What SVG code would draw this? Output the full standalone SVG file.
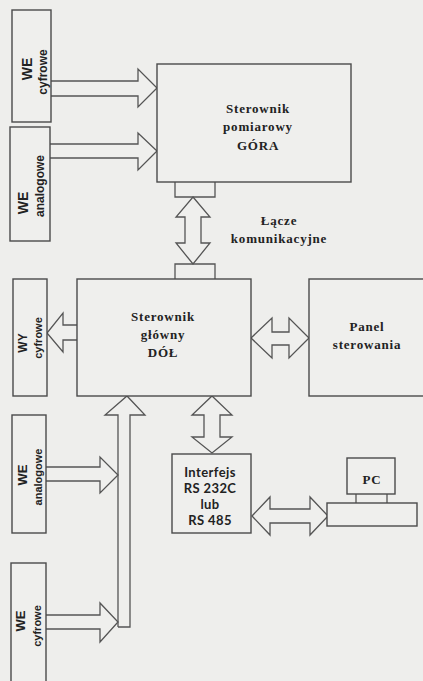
<svg xmlns="http://www.w3.org/2000/svg" width="423" height="681" viewBox="0 0 423 681">
<style>
.bg{fill:#eeeeec}
.box{fill:#efefed;stroke:#4a4a4a;stroke-width:1.4}
.ln{fill:none;stroke:#555;stroke-width:1.3;stroke-linejoin:miter}
.arr{fill:#efefed;stroke:#555;stroke-width:1.3}
.t{font-family:"Liberation Serif","Times New Roman",serif;font-weight:bold;font-size:13px;fill:#222;text-anchor:middle;letter-spacing:0.8px}
.v{font-family:"Liberation Sans",Arial,sans-serif;font-weight:bold;fill:#222;text-anchor:middle}
.s{font-family:Lato,"Liberation Sans",sans-serif;font-weight:bold;font-size:13px;fill:#222;text-anchor:middle;letter-spacing:0.4px}
</style>
<rect class="bg" x="0" y="0" width="423" height="681"/>

<g id="connectors">
  <polyline class="arr" points="51,81 138,81 138,69 157,88 138,107 138,96 51,96"/>
  <polyline class="arr" points="50,144 138,144 138,133 157,151 138,170 138,158 50,158"/>
  <polyline class="ln" points="175,182 175,197 215,197 215,182"/>
  <polygon class="arr" points="193,197 210,217 201,217 201,243 210,243 193,264 176,243 185,243 185,217 176,217"/>
  <polyline class="ln" points="175,279 175,264 215,264 215,279"/>
  <polyline class="arr" points="77,325 63,325 63,313 47,333 63,352 63,340 77,340"/>
  <polygon class="arr" points="251,338 272,318 272,332 289,332 289,318 309,338 289,358 289,345 272,345 272,358"/>
  <polyline class="arr" points="118,627 118,415 105,415 127,396 145,415 130,415 130,627 118,627"/>
  <polyline class="arr" points="46,467 100,467 100,457 118,475 100,493 100,481 46,481"/>
  <polyline class="arr" points="46,615 100,615 100,603 118,622 100,642 100,629 46,629"/>
  <polygon class="arr" points="212,396 232,415 220,415 220,437 232,437 212,453 192,437 204,437 204,415 192,415"/>
  <polygon class="arr" points="252,516 270,497 270,509 310,509 310,497 328,516 310,535 310,523 270,523 270,535"/>
  <line class="ln" x1="356" y1="494" x2="356" y2="503"/>
  <line class="ln" x1="387" y1="494" x2="387" y2="503"/>
</g>

<g id="we-cyfrowe-top">
  <rect class="box" x="12" y="10" width="39" height="112"/>
  <text class="v" font-size="14" transform="translate(32,69) rotate(-90)">WE</text>
  <text class="v" font-size="12" transform="translate(47,72) rotate(-90)">cyfrowe</text>
</g>
<g id="we-analogowe-top">
  <rect class="box" x="10" y="127" width="40" height="114"/>
  <text class="v" font-size="14" transform="translate(28,203) rotate(-90)">WE</text>
  <text class="v" font-size="12" transform="translate(44,186) rotate(-90)">analogowe</text>
</g>
<g id="sterownik-pomiarowy">
  <rect class="box" x="157" y="64" width="194" height="118"/>
  <text class="t" x="258" y="113">Sterownik</text>
  <text class="t" x="258" y="131">pomiarowy</text>
  <text class="t" x="258" y="150">GÓRA</text>
</g>
<g id="lacze">
  <text class="t" x="279" y="225">Łącze</text>
  <text class="t" x="279" y="243">komunikacyjne</text>
</g>
<g id="wy-cyfrowe">
  <rect class="box" x="13" y="279" width="34" height="117"/>
  <text class="v" font-size="12" transform="translate(27,343) rotate(-90)">WY</text>
  <text class="v" font-size="11" transform="translate(42,338) rotate(-90)">cyfrowe</text>
</g>
<g id="sterownik-glowny">
  <rect class="box" x="77" y="279" width="174" height="117"/>
  <text class="t" x="163" y="321">Sterownik</text>
  <text class="t" x="163" y="339">główny</text>
  <text class="t" x="163" y="357">DÓŁ</text>
</g>
<g id="panel">
  <rect class="box" x="309" y="279" width="130" height="117"/>
  <text class="t" x="367" y="331">Panel</text>
  <text class="t" x="367" y="349">sterowania</text>
</g>
<g id="we-analogowe-bottom">
  <rect class="box" x="12" y="415" width="34" height="118"/>
  <text class="v" font-size="13" transform="translate(27,475) rotate(-90)">WE</text>
  <text class="v" font-size="11" transform="translate(42,477) rotate(-90)">analogowe</text>
</g>
<g id="we-cyfrowe-bottom">
  <rect class="box" x="11" y="563" width="35" height="130"/>
  <text class="v" font-size="13" transform="translate(25,621) rotate(-90)">WE</text>
  <text class="v" font-size="11" transform="translate(41,626) rotate(-90)">cyfrowe</text>
</g>
<g id="interfejs">
  <rect class="box" x="172" y="454" width="79" height="79"/>
  <text class="s" x="210" y="477">Interfejs</text>
  <text class="s" x="210" y="493">RS 232C</text>
  <text class="s" x="210" y="509">lub</text>
  <text class="s" x="210" y="525">RS 485</text>
</g>
<g id="pc">
  <rect class="box" x="347" y="458" width="48" height="36"/>
  <text class="t" x="372" y="484" font-size="14">PC</text>
</g>
<g id="pc-base">
  <rect class="box" x="327" y="503" width="90" height="23"/>
</g>
</svg>
